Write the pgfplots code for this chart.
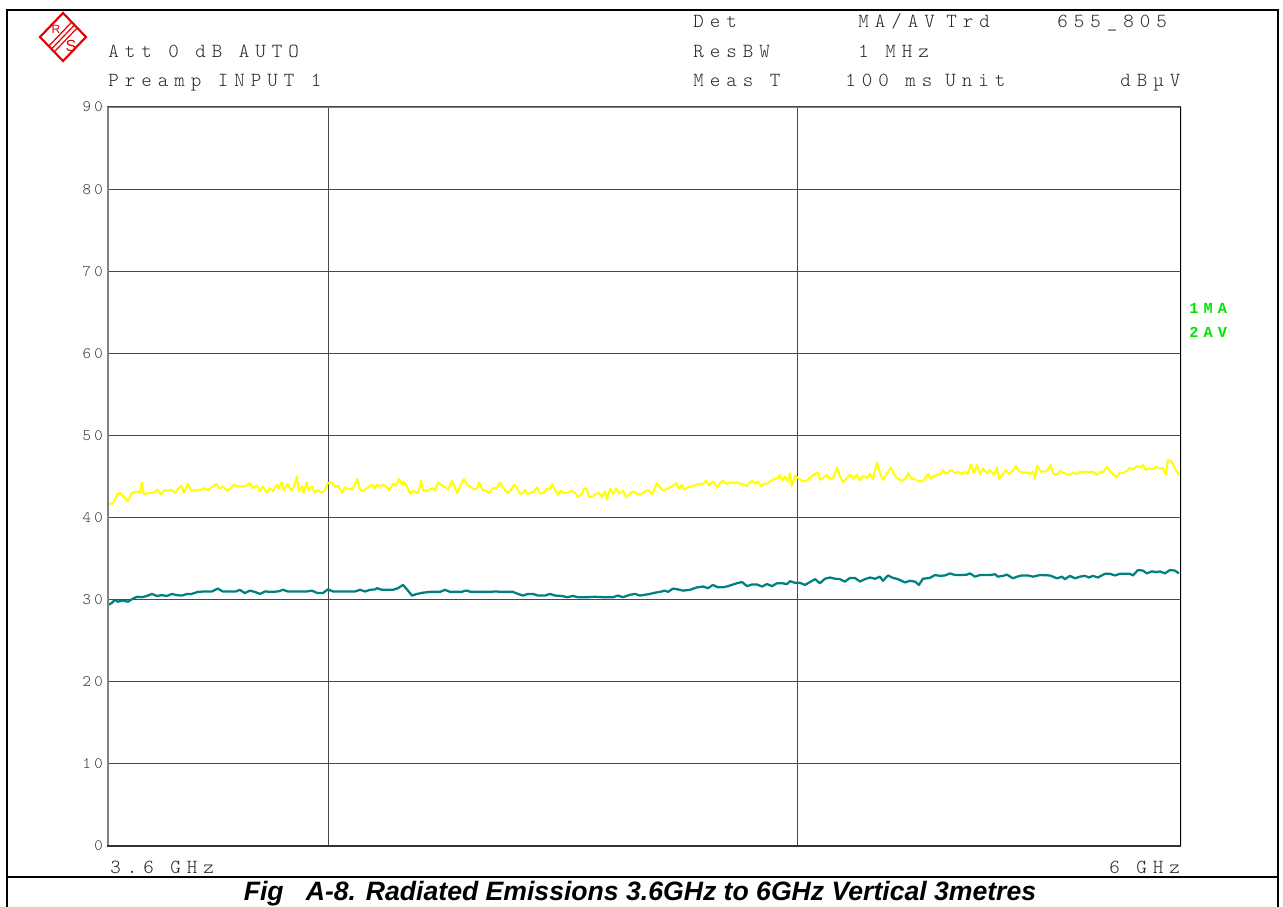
\documentclass[border=0pt]{standalone}
\usepackage{fontspec}
\usepackage{pgfplots}
\pgfplotsset{compat=1.18}
\usepackage{pgfplotstable}
\newfontfamily\hdrfont{lmmonolt10-regular.otf}[LetterSpace=30]
\newfontfamily\tickfont{lmmonolt10-regular.otf}[LetterSpace=21]
\newfontfamily\grnfont{Liberation Mono}[LetterSpace=33]
\newfontfamily\capfont{Liberation Sans}
\newfontfamily\logofont{Liberation Sans}
\definecolor{trYellow}{RGB}{255,255,0}
\definecolor{trTeal}{RGB}{0,128,128}
\definecolor{grn}{RGB}{0,230,0}
\definecolor{gridc}{RGB}{72,72,72}
\definecolor{rsred}{RGB}{230,0,0}

% columns: off = sweep position in screen pixels (0..1074), db = level in dBuV
\pgfplotstableread{
off db
0 41.7
6 41.7
10 42.8
13 43.0
16 42.6
21 42.0
25 43.0
30 43.2
33 43.0
35 44.3
37 42.8
41 43.0
46 43.0
51 43.4
54 42.8
58 43.4
61 43.2
65 43.4
68 43.0
71 43.5
75 43.9
77 43.0
81 44.1
84 43.3
88 43.3
95 43.4
98 43.6
101 43.3
105 43.7
110 44.1
113 43.5
116 43.8
120 43.3
123 43.5
127 44.0
131 43.8
138 43.8
143 44.2
146 43.6
150 43.9
153 43.2
156 43.8
160 43.0
163 43.6
166 43.2
170 44.0
172 43.5
175 44.3
177 43.3
181 44.1
184 43.3
187 43.7
190 45.0
192 43.2
195 43.8
197 43.0
200 44.3
202 43.3
205 43.8
208 43.0
211 43.4
215 43.0
218 43.3
221 44.2
225 44.3
228 43.7
231 43.9
235 43.0
238 43.7
241 43.5
245 43.4
247 43.8
250 44.7
253 43.4
256 43.2
260 43.6
265 44.0
268 43.6
270 44.0
273 43.8
276 44.0
280 43.7
282 43.3
286 44.1
289 43.9
292 44.7
295 44.0
296 44.4
300 43.8
303 42.9
306 43.3
310 43.0
312 43.3
314 44.5
316 43.3
321 43.3
325 43.6
328 43.3
331 44.3
335 43.9
338 43.7
341 43.4
345 44.5
348 43.6
350 43.0
354 44.0
357 44.7
360 44.0
363 43.8
367 43.4
370 43.5
372 44.3
376 43.3
379 43.3
382 43.0
386 43.6
390 43.6
393 44.3
396 43.7
400 43.0
403 43.2
407 44.0
410 43.6
413 42.9
416 43.0
418 43.4
420 42.9
424 43.0
427 43.2
430 43.7
433 42.9
436 43.0
440 43.5
443 43.4
445 44.1
448 43.4
451 42.8
454 43.3
457 43.0
461 43.0
465 43.3
468 43.0
471 42.5
475 42.9
477 43.6
480 43.4
482 42.5
486 42.6
489 42.9
492 43.0
495 42.5
498 43.2
500 42.2
503 43.5
506 42.9
509 43.6
512 42.9
516 43.3
519 42.5
522 42.8
526 43.2
530 42.9
533 42.8
536 43.0
541 43.4
545 42.8
547 43.4
550 44.2
553 43.7
556 43.3
560 43.5
564 43.7
569 44.2
572 43.5
575 44.0
577 43.4
581 43.7
585 43.8
589 44.0
593 44.1
596 44.1
599 44.5
602 43.9
605 44.3
607 44.4
610 43.6
613 44.2
616 44.5
620 44.1
623 44.3
626 44.2
630 44.3
633 44.1
636 44.1
640 43.8
643 44.3
645 44.5
648 44.1
651 44.4
654 43.8
657 44.1
661 44.2
664 44.5
667 44.7
671 44.8
673 45.2
675 44.5
678 45.0
681 44.4
683 45.4
685 43.8
688 45.1
691 44.8
695 44.5
698 44.4
701 44.6
705 45.1
708 45.3
711 45.5
713 44.6
716 44.8
720 45.2
723 44.7
726 44.8
730 46.1
733 45.0
736 44.3
740 44.8
743 45.2
746 44.7
750 45.2
753 44.5
756 45.1
760 44.8
763 45.3
766 44.7
770 46.7
773 45.4
776 44.6
780 45.4
784 46.1
787 45.3
791 44.7
795 44.5
799 44.8
801 45.4
805 44.7
808 44.7
811 44.4
815 44.4
818 44.7
821 45.3
824 44.7
826 45.0
830 45.2
833 45.3
836 45.8
839 45.3
842 45.6
845 45.8
848 45.4
851 45.6
855 45.3
858 45.6
861 45.3
864 46.5
867 45.4
870 46.4
873 45.3
876 46.0
880 45.4
883 45.8
887 45.2
890 46.1
892 44.7
896 45.3
899 45.8
902 45.3
906 45.7
909 46.3
912 45.6
916 45.5
920 45.5
923 45.3
926 45.6
928 44.7
930 46.3
934 45.6
937 45.6
940 45.7
944 46.4
946 45.4
950 45.2
953 45.7
956 45.5
960 45.3
963 45.2
966 45.5
970 45.3
973 45.6
976 45.5
980 45.6
983 45.5
986 45.6
990 45.2
993 45.6
996 45.5
1000 46.2
1003 45.6
1006 45.3
1010 44.9
1013 45.5
1016 45.4
1020 45.7
1023 46.1
1026 45.8
1030 46.3
1033 46.1
1036 46.4
1039 45.8
1042 46.0
1046 45.9
1049 46.2
1052 46.0
1056 46.0
1059 45.2
1061 47.0
1065 46.8
1068 46.0
1072 45.2
}\tracema

\pgfplotstableread{
off db
0 29.3
5 29.6
8 30.0
11 29.75
16 29.9
21 29.75
25 30.05
30 30.35
35 30.3
40 30.45
45 30.7
50 30.45
55 30.55
60 30.45
65 30.7
70 30.55
75 30.5
80 30.7
85 30.7
91 30.95
98 31.0
105 31.0
111 31.35
116 31.0
123 31.0
129 31.0
133 31.2
138 30.8
143 31.1
148 30.95
153 30.7
158 31.0
165 30.95
171 31.0
176 31.2
181 31.0
188 31.0
195 31.0
200 31.0
205 31.1
211 30.8
216 30.8
221 31.25
226 31.0
233 31.0
241 31.0
248 31.0
253 31.2
258 31.0
263 31.2
268 31.25
270 31.4
275 31.2
281 31.2
286 31.2
291 31.4
296 31.8
300 31.25
305 30.5
310 30.7
316 30.85
323 30.95
333 30.95
338 31.2
343 30.95
350 30.95
355 30.95
358 31.1
361 31.1
363 30.95
373 30.95
383 30.95
388 31.0
396 30.95
406 30.95
411 30.7
416 30.5
421 30.7
426 30.7
431 30.5
438 30.5
443 30.7
448 30.5
455 30.45
460 30.3
466 30.45
471 30.3
480 30.3
488 30.35
496 30.3
506 30.3
511 30.5
516 30.3
523 30.6
528 30.7
533 30.5
538 30.6
543 30.7
548 30.85
553 30.95
558 31.1
561 30.95
566 31.35
571 31.25
576 31.1
583 31.2
590 31.5
596 31.6
601 31.4
606 31.8
611 31.5
616 31.5
621 31.65
626 31.85
630 32.0
635 32.15
640 31.65
645 31.85
650 31.85
655 31.6
660 31.9
665 31.65
670 32.0
675 32.0
680 31.9
683 32.25
688 32.05
693 32.05
698 31.8
703 32.15
708 32.5
713 32.0
718 32.55
723 32.7
728 32.55
733 32.5
738 32.2
743 32.65
748 32.65
753 32.2
758 32.5
763 32.7
768 32.55
773 32.8
776 32.3
781 32.95
786 32.65
791 32.5
798 32.1
803 32.3
808 32.2
812 31.8
816 32.55
823 32.65
828 33.0
833 32.9
838 32.95
843 33.2
848 33.0
855 33.0
860 33.05
863 33.2
868 32.8
873 33.0
883 33.0
888 33.1
891 32.8
896 32.9
900 33.05
906 32.6
910 32.8
915 32.95
921 32.95
926 32.8
933 33.0
943 32.95
950 32.6
955 32.8
958 32.5
963 32.9
968 32.6
973 32.8
978 32.9
982 32.7
986 32.9
991 32.7
998 33.15
1003 33.15
1008 32.95
1013 33.15
1023 33.15
1026 32.95
1031 33.6
1036 33.55
1040 33.2
1045 33.45
1050 33.35
1053 33.45
1058 33.2
1063 33.6
1068 33.55
1072 33.2
}\traceav

\begin{document}
\begin{tikzpicture}[x=0.75pt,y=-0.75pt]
\useasboundingbox (0,0) rectangle (1283,907);

% outer frame
\draw[black, line width=1.5pt] (7,907) -- (7,10) -- (1278,10) -- (1278,907);
\draw[black, line width=1.5pt] (7,877) -- (1278,877);

\begin{axis}[
  at={(80.25pt,-634.5pt)}, anchor=south west,
  scale only axis, width=805.5pt, height=554.25pt,
  xmode=log, xmin=3.6, xmax=6, ymin=0, ymax=90,
  xtick={4,5}, xticklabels={}, ytick={0,10,...,90},
  major tick length=0pt,
  grid=major, grid style={gridc, line width=0.9pt},
  axis line style={draw=none},
  /pgf/number format/assume math mode=true,
  yticklabel style={font=\tickfont\fontsize{12pt}{14pt}\selectfont, anchor=east, inner sep=0pt, xshift=-3pt, text=black!80},
  clip=true,
]
\addplot[trYellow, line width=1.5pt, line join=round] table[x expr={3.6*exp(0.51082562*\thisrow{off}/1074)}, y=db] {\tracema};
\addplot[trTeal, line width=1.7pt, line join=round] table[x expr={3.6*exp(0.51082562*\thisrow{off}/1074)}, y=db] {\traceav};
\draw[gray, line width=2.2pt] (rel axis cs:0,0) -- (rel axis cs:0,1) -- (rel axis cs:1,1);
\draw[black, line width=2.2pt] (rel axis cs:1,1) -- (rel axis cs:1,0);
\draw[black!80, line width=1.8pt] (rel axis cs:0,0) -- (rel axis cs:1,0);
\end{axis}

% header text
\begin{scope}[every node/.style={anchor=base west, inner sep=0pt, font=\hdrfont\fontsize{15pt}{17pt}\selectfont, text=black!85}]
\node at (693,27) {Det};
\node at (858,27) {MA/AV};
\node at (946,27) {Trd};
\node at (1057,27) {655\_805};
\node at (108,57) {Att 0 dB AUTO};
\node at (693,57) {ResBW};
\node at (858,57) {1 MHz};
\node at (108,86) {Preamp INPUT 1};
\node at (693,86) {Meas T};
\node at (845,86) {100 ms};
\node at (945,86) {Unit};
\node at (1120,86) {dB\textmu V};
\node at (110,873) {3.6 GHz};
\node at (1109,873) {6 GHz};
\end{scope}

% trace labels
\node[anchor=base west, inner sep=0pt, font=\grnfont\bfseries\fontsize{11.5pt}{13pt}\selectfont, text=grn] at (1189,313) {1MA};
\node[anchor=base west, inner sep=0pt, font=\grnfont\bfseries\fontsize{11.5pt}{13pt}\selectfont, text=grn] at (1189,337) {2AV};

% R&S logo
\def\lcx{63}\def\lcy{37}\def\la{23}\def\lb{24}
\draw[rsred, line width=1.6pt] (\lcx-\la,\lcy) -- (\lcx,\lcy-\lb) -- (\lcx+\la,\lcy) -- (\lcx,\lcy+\lb) -- cycle;
\foreach \t in {-0.12,0,0.12} {
  \draw[rsred, line width=0.9pt] (\lcx-\la/2+\t*\la,\lcy+\lb/2+\t*\lb) -- (\lcx+\la/2+\t*\la,\lcy-\lb/2+\t*\lb);
}
\node[text=rsred, inner sep=0pt, font=\logofont\fontsize{9pt}{10pt}\selectfont] at (\lcx-7,\lcy-8) {R};
\node[text=rsred, inner sep=0pt, font=\logofont\fontsize{12pt}{13pt}\selectfont] at (\lcx+8,\lcy+9) {S};

% caption
\node[anchor=base, inner sep=0pt, font=\capfont\bfseries\itshape\fontsize{19.95pt}{22pt}\selectfont] at (640,900) {Fig\ \ \ A-8. Radiated Emissions 3.6GHz to 6GHz Vertical 3metres};
\end{tikzpicture}
\end{document}
